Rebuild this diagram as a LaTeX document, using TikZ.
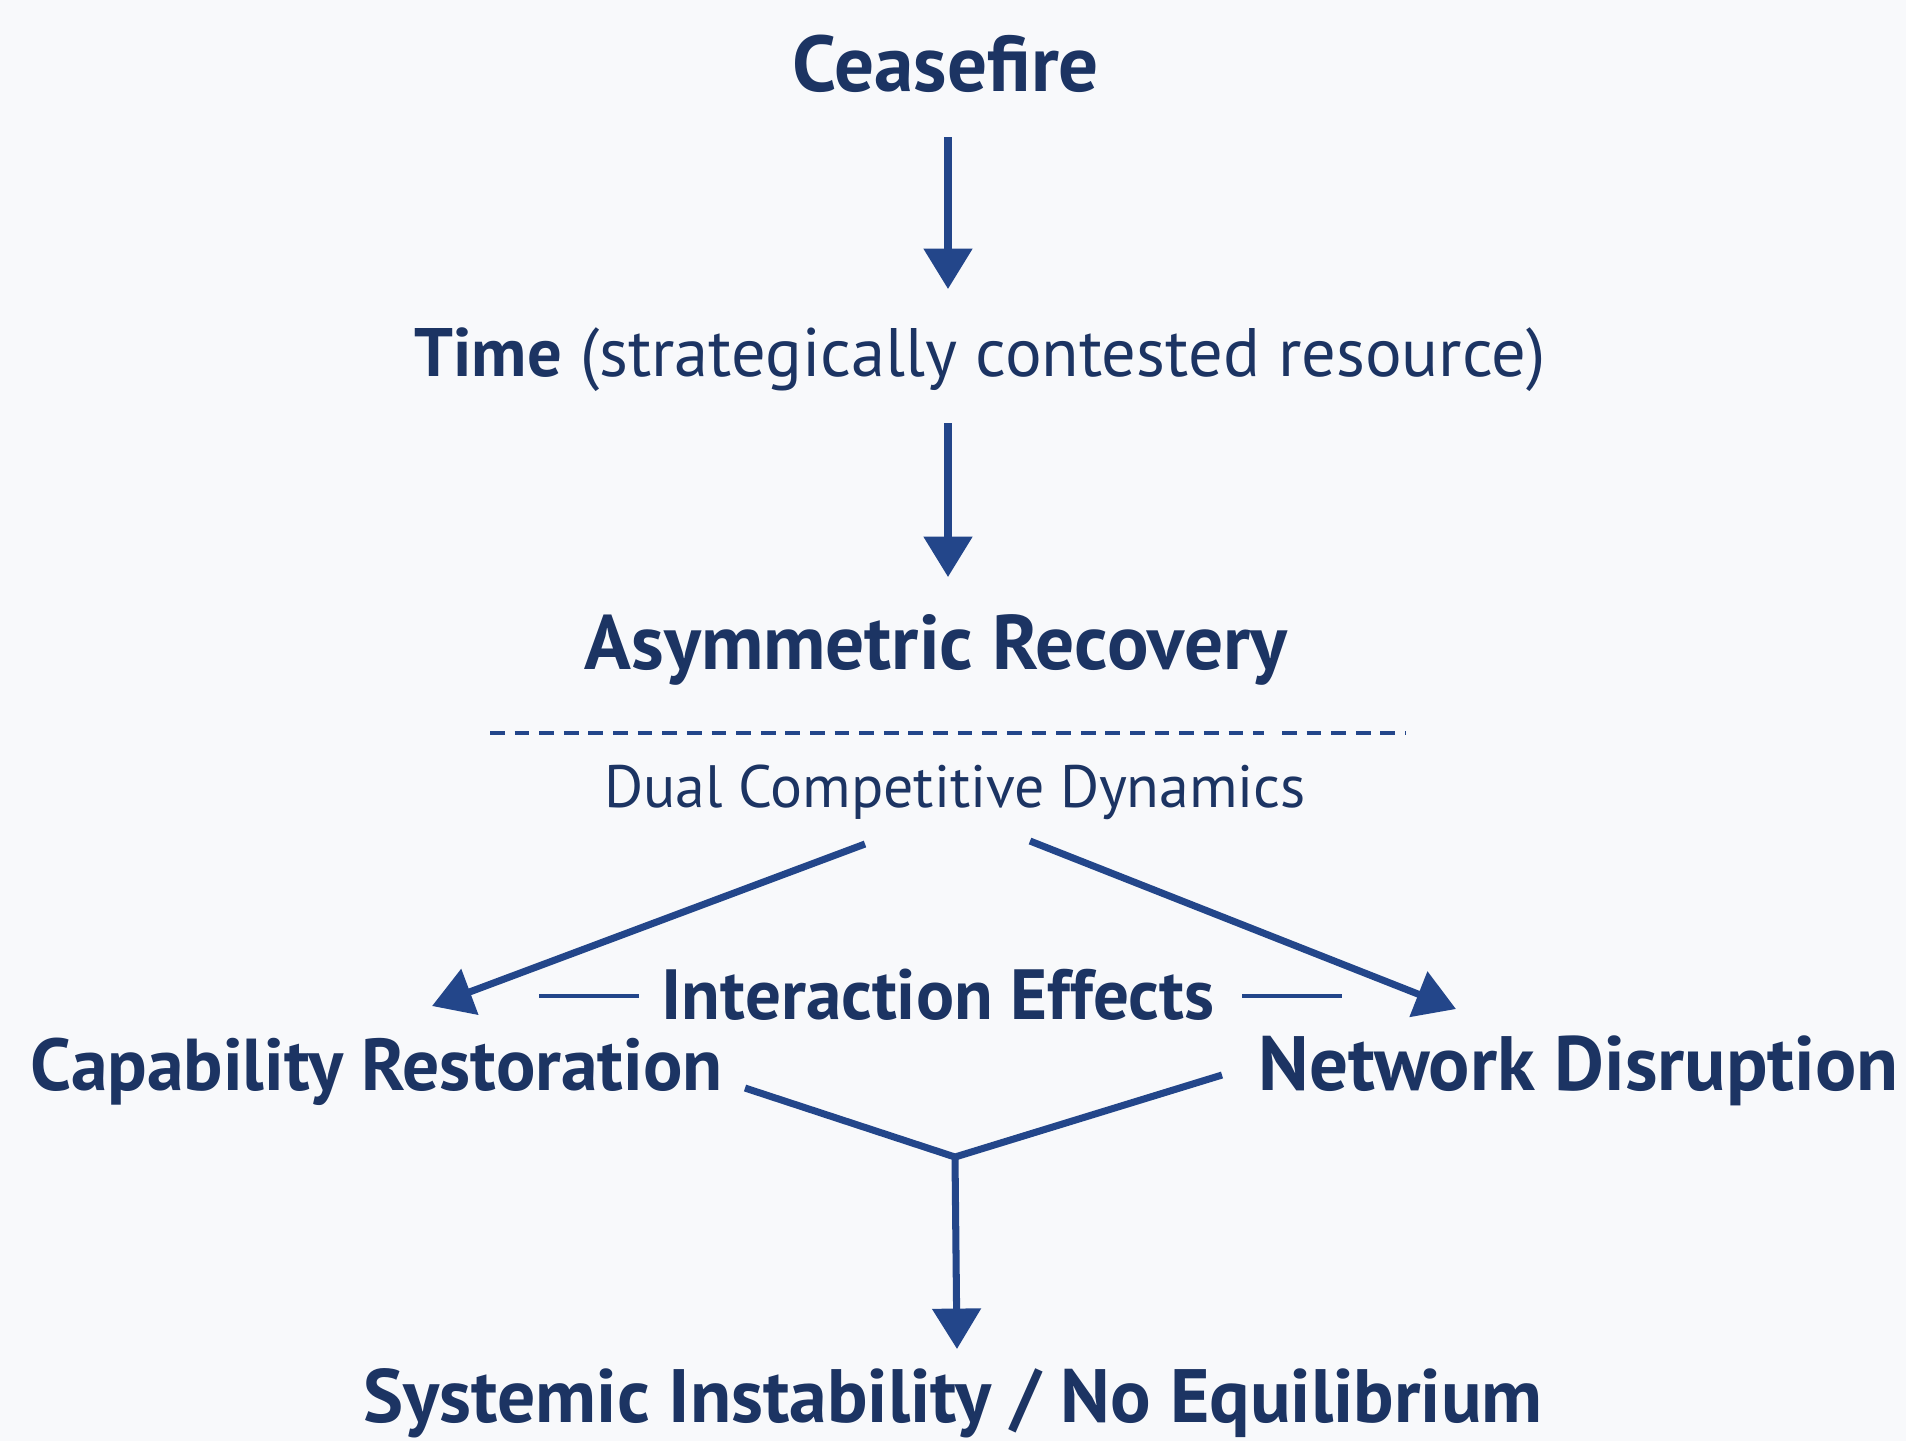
\documentclass[tikz,border=0pt]{standalone}
\usepackage{fontspec}
\setmainfont{PT Sans}
\usepackage{xcolor}
\usepackage{tikz}
\usetikzlibrary{arrows.meta,calc}
\definecolor{navy}{HTML}{1C3463}
\definecolor{flowblue}{HTML}{23468A}
\definecolor{paper}{HTML}{F8F9FB}

\begin{document}
\begin{tikzpicture}[x=0.01cm,y=-0.01cm,
  lbl/.style={inner sep=0pt,text=navy,anchor=base},
  flow/.style={flowblue,line width=2pt,-{Triangle[length=11.5pt,width=13.5pt]}},
  link/.style={flowblue,line width=2pt}]
 \fill[paper] (0,0) rectangle (1906,1441);
 \useasboundingbox (0,0) rectangle (1906,1441);
 \node[lbl,font=\fontsize{22.5}{26}\selectfont\bfseries] (cease) at (946,91) {Ceasefire};
 \node[lbl,font=\fontsize{19.5}{24}\selectfont] (time) at (980,376) {\textbf{Time} (strategically contested resource)};
 \node[lbl,font=\fontsize{22}{26}\selectfont\bfseries] (asym) at (936,669) {Asymmetric Recovery};
 \node[lbl,font=\fontsize{17}{20}\selectfont] (dual) at (955,807) {Dual Competitive Dynamics};
 \node[lbl,font=\fontsize{20.2}{24}\selectfont\bfseries] (inter) at (938,1019) {Interaction Effects};
 \node[lbl,anchor=base west,font=\fontsize{20.9}{25}\selectfont\bfseries] (cap) at (30,1090) {Capability Restoration};
 \node[lbl,anchor=base west,font=\fontsize{21.9}{26}\selectfont\bfseries] (net) at (1258,1090) {Network Disruption};
 \node[lbl,font=\fontsize{21.5}{26}\selectfont\bfseries] (sys) at (953,1422) {Systemic Instability / No Equilibrium};
 \coordinate (join) at (955,1157);

 \draw[flow] ($(cease.base)+(2,46)$) -- ($(cease.base)+(2,198)$);
 \draw[flow] ($(time.base)+(-32,47)$) -- ($(time.base)+(-32,201)$);
 \draw[flowblue,line width=1pt,dash pattern=on 4.2pt off 2.8pt] (490,733) -- (1264,733) (1282,733) -- (1406,733);
 \draw[flow] ($(dual.base)+(-90,37)$) -- (432,1006);
 \draw[flow] ($(dual.base)+(75,34)$) -- (1456,1009);
 \draw[flowblue,line width=1pt] ($(inter.base west)+(-22,-23)$) -- ++(-100,0);
 \draw[flowblue,line width=1pt] ($(inter.base east)+(27,-23)$) -- ++(100,0);
 \draw[link] (745,1088) -- (join) -- (1222,1075);
 \draw[flow] (join) -- ($(sys.base)+(4,-73)$);
\end{tikzpicture}
\end{document}
